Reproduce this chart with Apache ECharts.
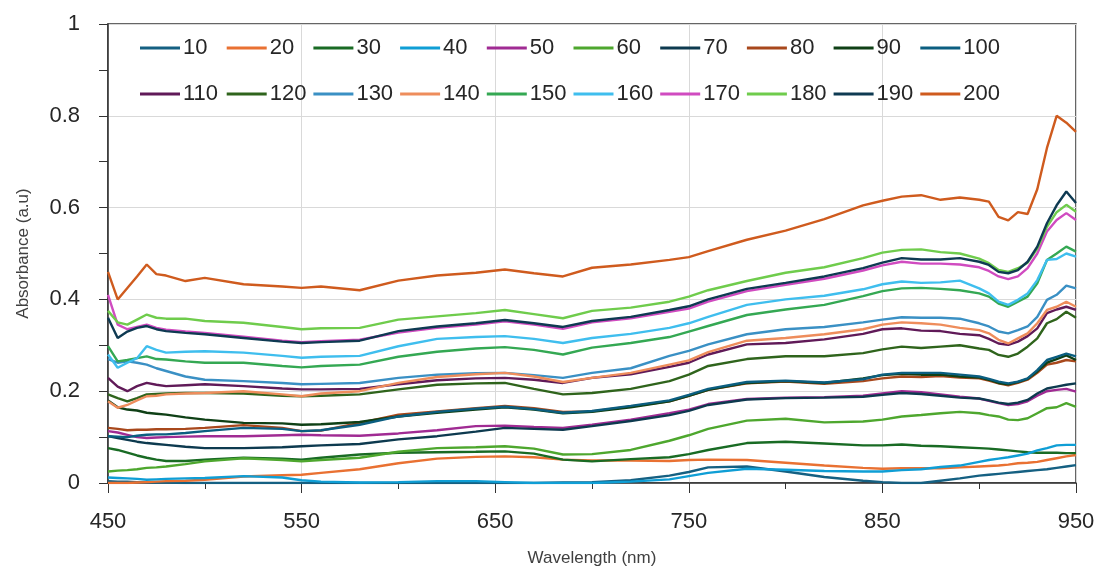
<!DOCTYPE html>
<html>
<head>
    <meta charset="utf-8">
    <title>Absorbance spectra</title>
    <script src="https://cdn.jsdelivr.net/npm/echarts@6/dist/echarts.min.js"></script>
</head>
<body style="margin:0">
    <div id="main" style="width:1105px;height:575px"></div>
    <script type="text/javascript">
// wavelength grid (nm)
var wavelength = [450,455,460,465,470,475,480,490,500,520,540,550,560,580,600,620,640,655,670,685,700,720,740,750,760,780,800,820,840,850,860,870,880,890,900,905,910,915,920,925,930,935,940,945,950];

var s10  = [.004,.003,.003,.002,.002,.001,.001,0,0,0,0,0,0,0,0,0,0,0,0,.001,.002,.006,.016,.024,.034,.036,.025,.013,.005,.002,0,0,.005,.01,.016,.018,.02,.022,.024,.026,.028,.03,.033,.036,.039];
var s20  = [0,0,0,.001,.002,.003,.004,.005,.007,.014,.017,.018,.022,.03,.043,.053,.057,.058,.056,.051,.049,.049,.048,.05,.051,.05,.044,.038,.033,.031,.032,.032,.032,.034,.036,.037,.038,.04,.043,.044,.046,.05,.054,.058,.061];
var s30  = [.076,.072,.066,.06,.055,.051,.048,.048,.051,.055,.053,.051,.055,.062,.066,.067,.068,.069,.064,.051,.047,.052,.056,.063,.072,.087,.09,.086,.082,.082,.084,.081,.08,.078,.076,.075,.073,.071,.069,.067,.066,.066,.066,.065,.065];
var s40  = [.012,.011,.01,.009,.007,.008,.009,.01,.011,.015,.012,.006,.003,.001,.002,.004,.004,.002,0,0,0,.003,.008,.015,.022,.031,.029,.026,.025,.025,.028,.03,.035,.038,.046,.05,.053,.056,.06,.064,.071,.076,.082,.083,.083];
var s50  = [.113,.11,.105,.1,.098,.099,.1,.101,.102,.102,.104,.105,.104,.103,.108,.115,.124,.125,.122,.12,.127,.138,.152,.16,.172,.183,.186,.187,.19,.195,.2,.198,.193,.188,.184,.179,.174,.17,.172,.178,.19,.2,.203,.205,.199];
var s60  = [.025,.027,.028,.03,.033,.034,.036,.041,.047,.054,.05,.047,.05,.055,.068,.076,.078,.08,.075,.062,.063,.072,.092,.104,.118,.136,.14,.132,.134,.138,.145,.148,.152,.155,.152,.148,.145,.138,.137,.141,.152,.163,.165,.174,.166];
var s70  = [.102,.098,.094,.09,.087,.085,.083,.079,.076,.076,.078,.08,.082,.085,.095,.102,.112,.12,.118,.116,.124,.135,.148,.157,.17,.182,.185,.186,.188,.192,.196,.194,.19,.186,.184,.18,.175,.172,.175,.181,.195,.206,.21,.214,.217];
var s80  = [.12,.118,.115,.116,.116,.117,.117,.118,.12,.126,.12,.113,.114,.131,.149,.156,.163,.168,.163,.155,.156,.167,.178,.19,.203,.217,.221,.216,.222,.228,.232,.231,.233,.23,.228,.223,.217,.213,.218,.225,.24,.258,.262,.268,.265];
var s90  = [.18,.165,.16,.158,.153,.151,.149,.143,.138,.131,.13,.127,.128,.133,.145,.153,.16,.165,.16,.152,.155,.165,.178,.19,.203,.218,.222,.218,.228,.235,.238,.236,.236,.232,.23,.225,.218,.215,.22,.227,.243,.262,.27,.278,.268];
var s100 = [.102,.101,.1,.103,.105,.106,.106,.109,.113,.12,.118,.113,.115,.127,.145,.155,.162,.166,.161,.153,.157,.168,.18,.192,.205,.22,.223,.219,.226,.236,.24,.24,.24,.236,.232,.227,.221,.217,.221,.228,.246,.268,.275,.282,.276];
var s110 = [.229,.21,.2,.211,.218,.214,.211,.213,.215,.211,.206,.204,.204,.205,.215,.224,.228,.229,.225,.218,.229,.237,.253,.262,.28,.302,.305,.313,.325,.335,.337,.332,.331,.325,.322,.314,.304,.301,.308,.32,.337,.37,.378,.384,.377];
var s120 = [.193,.185,.178,.185,.193,.194,.195,.196,.196,.195,.19,.189,.19,.193,.204,.214,.217,.218,.205,.193,.196,.205,.222,.236,.255,.27,.276,.276,.283,.291,.297,.294,.297,.3,.293,.29,.279,.275,.282,.297,.315,.348,.357,.373,.36];
var s130 = [.27,.262,.265,.262,.258,.25,.244,.232,.225,.222,.218,.215,.216,.218,.229,.236,.239,.24,.235,.229,.24,.25,.277,.288,.302,.324,.335,.34,.35,.356,.361,.36,.36,.358,.348,.341,.33,.326,.333,.341,.362,.399,.41,.43,.424];
var s140 = [.178,.164,.17,.18,.189,.19,.193,.195,.196,.2,.193,.189,.195,.2,.218,.231,.237,.24,.232,.22,.229,.24,.258,.267,.285,.31,.316,.324,.335,.345,.35,.348,.345,.338,.333,.326,.312,.304,.315,.326,.348,.377,.384,.395,.384];
var s150 = [.298,.265,.268,.272,.276,.27,.269,.265,.262,.262,.255,.252,.255,.258,.275,.286,.293,.296,.29,.28,.295,.305,.318,.33,.342,.366,.378,.388,.407,.418,.424,.425,.423,.42,.413,.406,.391,.384,.395,.406,.435,.486,.5,.515,.504];
var s160 = [.28,.251,.262,.272,.298,.29,.284,.286,.287,.284,.277,.273,.275,.277,.298,.314,.318,.32,.314,.305,.316,.325,.338,.348,.362,.388,.4,.408,.422,.433,.439,.436,.437,.441,.424,.413,.395,.388,.399,.413,.442,.486,.488,.5,.493];
var s170 = [.41,.345,.335,.34,.345,.338,.334,.33,.327,.319,.31,.307,.309,.312,.328,.338,.345,.352,.345,.336,.35,.359,.373,.38,.395,.418,.432,.445,.463,.474,.482,.478,.478,.476,.47,.462,.45,.444,.45,.468,.5,.548,.573,.588,.573];
var s180 = [.375,.35,.345,.356,.367,.36,.358,.358,.353,.349,.34,.335,.337,.338,.356,.363,.37,.377,.368,.359,.375,.382,.395,.406,.42,.44,.458,.47,.49,.502,.508,.509,.503,.5,.489,.479,.464,.46,.468,.48,.511,.558,.59,.606,.591];
var s190 = [.36,.316,.33,.338,.342,.335,.331,.327,.324,.316,.308,.305,.307,.31,.331,.341,.348,.355,.348,.34,.353,.362,.377,.385,.4,.423,.436,.45,.468,.48,.49,.487,.487,.49,.482,.475,.46,.457,.464,.482,.515,.566,.605,.635,.61];
var s200 = [.46,.40,.425,.45,.476,.455,.452,.44,.447,.433,.428,.425,.428,.42,.441,.452,.458,.465,.457,.45,.469,.476,.486,.492,.505,.53,.55,.575,.605,.615,.624,.627,.617,.622,.617,.613,.58,.572,.59,.586,.64,.73,.8,.785,.765];

var names = ['10','20','30','40','50','60','70','80','90','100','110','120','130','140','150','160','170','180','190','200'];
var values = [s10,s20,s30,s40,s50,s60,s70,s80,s90,s100,s110,s120,s130,s140,s150,s160,s170,s180,s190,s200];
var colors = ['#156082','#E97132','#196B24','#0F9ED5','#A02B93','#4EA72E','#0D3A4F','#A8481C','#0F4016','#0B5E80',
              '#601A58','#2F641C','#3A90C4','#EE8D5C','#34A853','#3FBEEE','#D04BC0','#6FCC4C','#0E3A52','#CF5B1E'];

var myChart = echarts.init(document.getElementById('main'));

var series = names.map(function (n, k) {
    return {
        name: n,
        type: 'line',
        symbol: 'none',
        color: colors[k],
        lineStyle: { width: 2.4 },
        data: wavelength.map(function (w, i) { return [w, values[k][i]]; })
    };
});

// one small legend per entry, 10 per row on a fixed pitch (like the Excel legend)
var legends = names.map(function (n, k) {
    return {
        data: [n],
        left: 140 + (k % 10) * 86.7,
        top: k < 10 ? 37 : 83,
        padding: 0,
        icon: 'rect',
        itemWidth: 40,
        itemHeight: 3,
        textStyle: { fontSize: 22, color: '#262626', fontFamily: 'Liberation Sans', padding: [0, 0, 0, -2] }
    };
});

myChart.setOption({
    animation: false,
    backgroundColor: '#fff',
    grid: { left: 108, right: 29, top: 24, bottom: 92, show: true, borderColor: '#333', borderWidth: 1.5 },
    legend: legends,
    xAxis: {
        type: 'value',
        min: 450, max: 950, interval: 100,
        name: 'Wavelength (nm)',
        nameLocation: 'middle',
        nameGap: 67,
        nameTextStyle: { fontSize: 17, color: '#404040', fontFamily: 'Liberation Sans Narrow, Liberation Sans' },
        axisLine: { lineStyle: { color: '#333', width: 1.5 } },
        axisTick: { length: 10, lineStyle: { color: '#333' } },
        minorTick: { show: true, splitNumber: 2, length: 6, lineStyle: { color: '#333' } },
        axisLabel: { fontSize: 22, margin: 28, color: '#262626', fontFamily: 'Liberation Sans Narrow, Liberation Sans' },
        splitLine: { lineStyle: { color: '#d9d9d9', width: 1 } }
    },
    yAxis: {
        type: 'value',
        min: 0, max: 1, interval: 0.2,
        name: 'Absorbance (a.u)',
        nameLocation: 'middle',
        nameGap: 76,
        nameTextStyle: { fontSize: 17, color: '#404040', fontFamily: 'Liberation Sans' },
        axisLine: { show: true, lineStyle: { color: '#333', width: 1.5 } },
        axisTick: { show: true, length: 9, lineStyle: { color: '#333' } },
        minorTick: { show: true, splitNumber: 2, length: 9, lineStyle: { color: '#333' } },
        axisLabel: { fontSize: 22, margin: 28, color: '#262626', fontFamily: 'Liberation Sans' },
        splitLine: { lineStyle: { color: '#d9d9d9', width: 1 } }
    },
    series: series
});
    </script>
</body>
</html>
